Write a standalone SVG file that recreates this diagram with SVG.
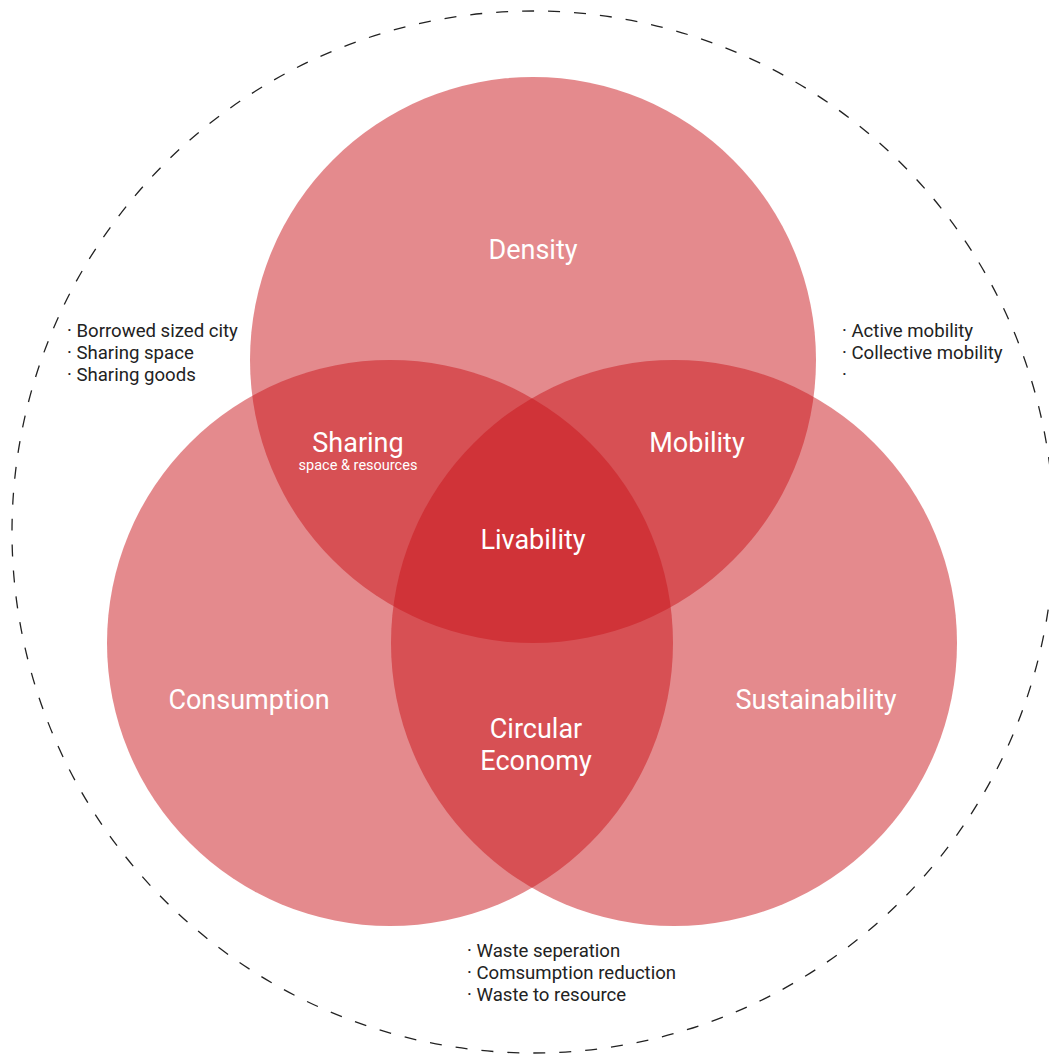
<svg xmlns="http://www.w3.org/2000/svg" width="1049" height="1054" viewBox="0 0 1049 1054">
<style>
.c{fill:rgb(202,22,28);fill-opacity:0.5}
.big{font-family:Roboto,"Liberation Sans",sans-serif;font-size:27px;fill:#fff;text-anchor:middle}
.small{font-family:Roboto,"Liberation Sans",sans-serif;font-size:14.5px;fill:#fff;text-anchor:middle}
.note{font-family:Roboto,"Liberation Sans",sans-serif;font-size:18.6px;fill:#222}
</style>
<rect width="1049" height="1054" fill="#fff"/>
<g id="boundary">
<circle cx="533" cy="532" r="521" fill="none" stroke="#222" stroke-width="1.3" stroke-dasharray="12 14"/>
</g>
<g id="density"><circle class="c" cx="533" cy="360" r="283"/></g>
<g id="consumption"><circle class="c" cx="390" cy="643" r="283"/></g>
<g id="sustainability"><circle class="c" cx="674" cy="643" r="283"/></g>
<g id="labels">
<text class="big" x="533" y="259">Density</text>
<text class="big" x="358" y="452">Sharing</text>
<text class="small" x="358" y="470">space &amp; resources</text>
<text class="big" x="697" y="452">Mobility</text>
<text class="big" x="533" y="549">Livability</text>
<text class="big" x="249" y="709">Consumption</text>
<text class="big" x="816" y="709">Sustainability</text>
<text class="big" x="536" y="738">Circular</text>
<text class="big" x="536" y="770">Economy</text>
</g>
<g id="notes-left">
<text class="note" x="67" y="337">· Borrowed sized city</text>
<text class="note" x="67" y="359">· Sharing space</text>
<text class="note" x="67" y="381">· Sharing goods</text>
</g>
<g id="notes-right">
<text class="note" x="842" y="337">· Active mobility</text>
<text class="note" x="842" y="359">· Collective mobility</text>
<text class="note" x="842" y="381">·</text>
</g>
<g id="notes-bottom">
<text class="note" x="467" y="957">· Waste seperation</text>
<text class="note" x="467" y="979">· Comsumption reduction</text>
<text class="note" x="467" y="1001">· Waste to resource</text>
</g>
<g id="connectors"></g>
</svg>
